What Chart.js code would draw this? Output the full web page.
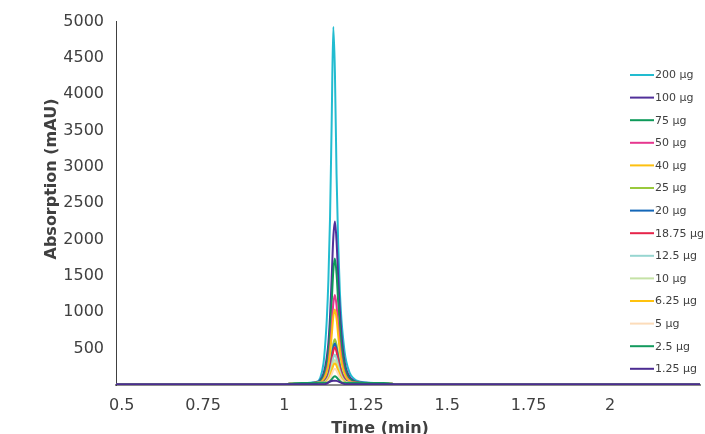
<!DOCTYPE html>
<html>
<head>
<meta charset="utf-8">
<script src="https://cdn.jsdelivr.net/npm/chart.js@4.4.1/dist/chart.umd.min.js"></script>
<style>
html,body{margin:0;padding:0;background:#fff;overflow:hidden}
#wrap{position:relative;width:705px;height:434px}
</style>
</head>
<body>
<div id="wrap"><canvas id="c" width="705" height="434"></canvas></div>
<script>
// Retention time (min)
const times = [0.48, 1.00, 1.03, 1.06, 1.08, 1.10, 1.11, 1.12, 1.125, 1.13, 1.135, 1.14, 1.145, 1.15, 1.155, 1.16, 1.165, 1.17, 1.175, 1.18, 1.185, 1.19, 1.20, 1.21, 1.22, 1.25, 1.30, 1.32, 1.34, 2.28];

const seriesLabels = ['200 µg', '100 µg', '75 µg', '50 µg', '40 µg', '25 µg', '20 µg', '18.75 µg', '12.5 µg', '10 µg', '6.25 µg', '5 µg', '2.5 µg', '1.25 µg'];
const seriesColors = ['#22BCD0', '#51309A', '#0E9A5A', '#E6378F', '#FDC010', '#99C93C', '#1467B8', '#E6244A', '#97D6D1', '#C5E2A6', '#FFC20E', '#FCDCBA', '#139A5E', '#4C2C92'];

const ug200  = [8, 8, 25, 28, 32, 45, 100, 300, 550, 900, 1450, 2300, 3600, 4930, 4300, 2900, 1950, 1300, 900, 650, 450, 320, 170, 100, 65, 35, 28, 25, 8, 8];
const ug100  = [8, 8, 25, 27, 28, 35, 68, 158, 248, 383, 585, 945, 1463, 2025, 2250, 1980, 1485, 1035, 698, 473, 315, 214, 113, 68, 45, 30, 26, 24, 8, 8];
const ug75   = [8, 8, 25, 27, 28, 30, 52, 122, 191, 296, 452, 731, 1131, 1566, 1740, 1531, 1148, 800, 539, 365, 244, 165, 87, 52, 35, 28, 26, 24, 8, 8];
const ug50   = [8, 8, 25, 27, 28, 30, 37, 87, 136, 211, 322, 521, 806, 1116, 1240, 1091, 818, 570, 384, 260, 174, 118, 62, 37, 30, 28, 26, 24, 8, 8];
const ug40   = [8, 8, 25, 27, 28, 30, 31, 73, 114, 177, 270, 437, 676, 936, 1040, 915, 686, 478, 322, 218, 146, 99, 52, 31, 30, 28, 26, 24, 8, 8];
const ug25   = [8, 8, 25, 27, 28, 30, 30, 44, 69, 107, 164, 265, 410, 567, 630, 554, 416, 290, 195, 132, 88, 60, 32, 30, 29, 28, 26, 24, 8, 8];
const ug20   = [8, 8, 25, 27, 28, 30, 30, 40, 63, 97, 148, 239, 371, 513, 570, 502, 376, 262, 177, 120, 80, 54, 30, 29, 29, 28, 26, 24, 8, 8];
const ug1875 = [8, 8, 25, 27, 28, 30, 30, 36, 57, 88, 135, 218, 338, 468, 520, 458, 343, 239, 161, 109, 73, 49, 30, 29, 29, 28, 26, 24, 8, 8];
const ug125  = [8, 8, 25, 27, 28, 29, 30, 30, 46, 71, 108, 174, 270, 374, 415, 365, 274, 191, 129, 87, 58, 39, 30, 29, 29, 28, 26, 24, 8, 8];
const ug10   = [8, 8, 25, 27, 28, 29, 30, 30, 38, 59, 90, 145, 224, 311, 345, 304, 228, 159, 107, 72, 48, 33, 30, 29, 29, 28, 26, 24, 8, 8];
const ug625  = [8, 8, 25, 27, 28, 29, 30, 30, 33, 51, 78, 126, 195, 270, 300, 264, 198, 138, 93, 63, 42, 30, 29, 29, 29, 28, 26, 24, 8, 8];
const ug5    = [8, 8, 25, 27, 28, 29, 30, 30, 30, 38, 59, 95, 146, 203, 225, 198, 149, 104, 70, 47, 32, 30, 29, 29, 29, 28, 26, 24, 8, 8];
const ug25b  = [8, 8, 25, 27, 28, 29, 30, 30, 30, 30, 35, 50, 78, 108, 120, 106, 79, 55, 37, 30, 30, 29, 29, 29, 29, 28, 26, 24, 8, 8];
const ug125b = [10, 10, 10, 10, 10, 10, 10, 10, 12, 20, 35, 48, 56, 60, 60, 57, 50, 40, 30, 20, 12, 10, 10, 10, 10, 10, 10, 10, 10, 10];

const seriesValues = [ug200, ug100, ug75, ug50, ug40, ug25, ug20, ug1875, ug125, ug10, ug625, ug5, ug25b, ug125b];

const xTickValues = [0.5, 0.75, 1, 1.25, 1.5, 1.75, 2];
const xTickLabels = ['0.5', '0.75', '1', '1.25', '1.5', '1.75', '2'];
const yTickValues = [500, 1000, 1500, 2000, 2500, 3000, 3500, 4000, 4500, 5000];
const yTickLabels = ['500', '1000', '1500', '2000', '2500', '3000', '3500', '4000', '4500', '5000'];
const xTitle = 'Time (min)';
const yTitle = 'Absorption (mAU)';

const FONT = '"DejaVu Sans", Verdana, sans-serif';
const TEXT = '#404040';
Chart.defaults.font.family = FONT;

const datasets = seriesLabels.map((lab, i) => ({
  label: lab,
  data: times.map((t, j) => ({x: t, y: seriesValues[i][j]})),
  borderColor: seriesColors[i],
  backgroundColor: seriesColors[i],
  borderWidth: 2,
  pointRadius: 0,
  fill: false,
  cubicInterpolationMode: 'monotone',
  order: seriesLabels.length - i
}));

const overlay = {
  id: 'overlay',
  afterDraw(chart) {
    const ctx = chart.ctx;
    ctx.save();
    // legend (drawn over the plot area, on the right)
    ctx.font = '11px ' + FONT;
    ctx.textAlign = 'left';
    ctx.textBaseline = 'middle';
    chart.data.datasets.forEach((ds, i) => {
      const y = 75 + i * 22.6;
      ctx.strokeStyle = ds.borderColor;
      ctx.lineWidth = 2;
      ctx.beginPath();
      ctx.moveTo(630, y);
      ctx.lineTo(654, y);
      ctx.stroke();
      ctx.fillStyle = TEXT;
      ctx.fillText(ds.label, 655, y + 0.5);
    });
    // axis titles
    ctx.font = 'bold 16px ' + FONT;
    ctx.fillStyle = TEXT;
    ctx.textAlign = 'center';
    ctx.textBaseline = 'alphabetic';
    ctx.fillText(xTitle, 380, 433);
    ctx.translate(56, 179);
    ctx.rotate(-Math.PI / 2);
    ctx.fillText(yTitle, 0, 0);
    ctx.restore();
  }
};

new Chart(document.getElementById('c'), {
  type: 'line',
  data: { datasets },
  options: {
    responsive: false,
    devicePixelRatio: 1,
    animation: false,
    layout: { padding: { top: 20, right: 5, left: 0, bottom: 0 } },
    plugins: { legend: { display: false }, tooltip: { enabled: false } },
    scales: {
      x: {
        type: 'linear',
        min: 0.4825,
        max: 2.2765,
        grid: { display: false, drawTicks: false },
        border: { display: true, color: '#8a8a8a', width: 2 },
        ticks: {
          font: { size: 16 },
          color: TEXT,
          padding: 11,
          maxRotation: 0,
          autoSkip: false,
          callback: (v, i) => xTickLabels[i]
        },
        afterBuildTicks: s => { s.ticks = xTickValues.map(v => ({ value: v })); },
        afterFit: s => { s.height = 49; }
      },
      y: {
        type: 'linear',
        min: 0,
        max: 5000,
        grid: { display: false, drawTicks: false },
        border: { display: true, color: '#404040', width: 1 },
        ticks: {
          font: { size: 16 },
          color: TEXT,
          padding: 12,
          autoSkip: false,
          callback: (v, i) => yTickLabels[i]
        },
        afterBuildTicks: s => { s.ticks = yTickValues.map(v => ({ value: v })); },
        afterFit: s => { s.width = 116; }
      }
    }
  },
  plugins: [overlay]
});
</script>
</body>
</html>
